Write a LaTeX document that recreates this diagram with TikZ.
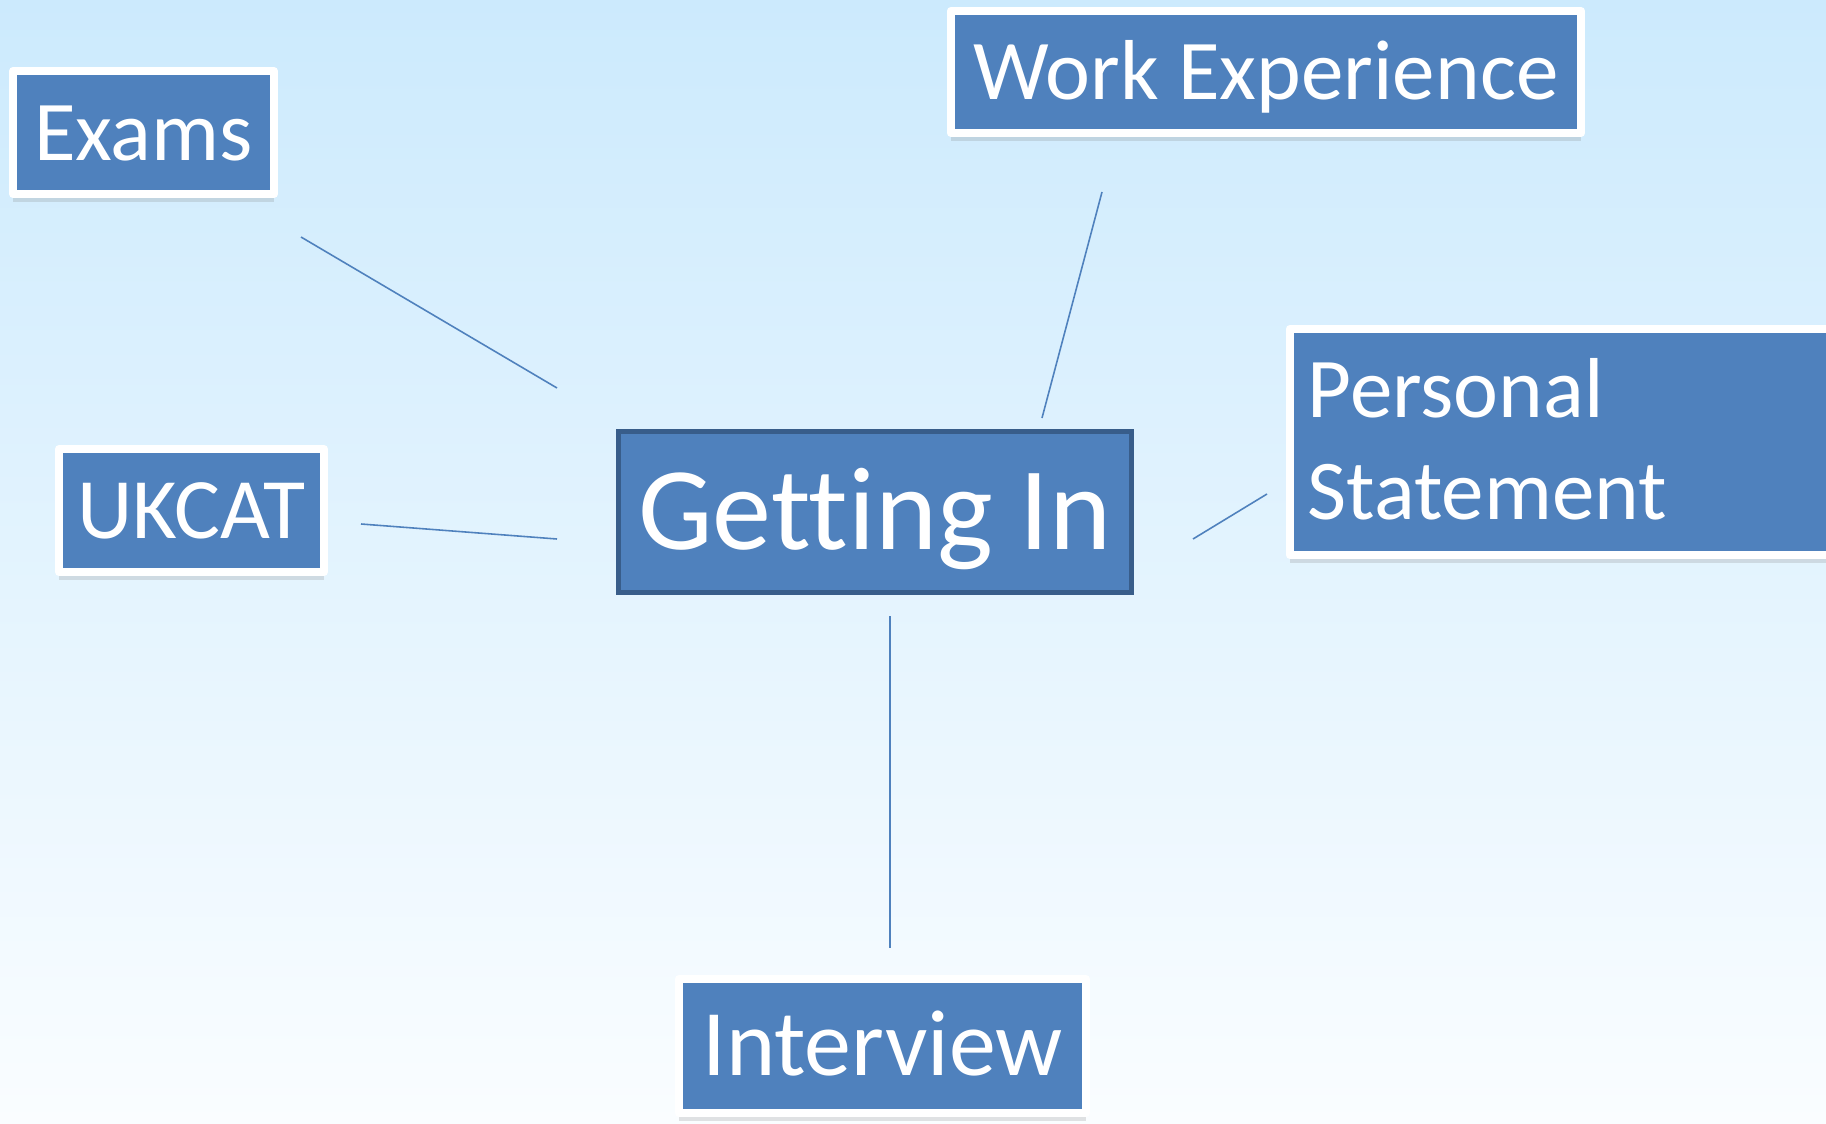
\documentclass[tikz,border=0pt]{standalone}
\usepackage{fontspec}
\setmainfont{Carlito}[Ligatures={NoCommon}]
\usetikzlibrary{shadows}
\definecolor{boxblue}{HTML}{4F81BD}
\definecolor{darkedge}{HTML}{385D8A}
\definecolor{bgtop}{HTML}{CCEAFD}
\definecolor{bgmid}{HTML}{E1F3FD}
\definecolor{bgbot}{HTML}{FAFDFF}
\begin{document}
\begin{tikzpicture}[x=0.01cm,y=-0.01cm,
  leaf/.style={draw=white, line width=0.08cm, line join=round, fill=boxblue, text=white, inner sep=0pt,
    drop shadow={shadow xshift=0pt, shadow yshift=-2.2pt, opacity=0.22}},
  hub/.style={draw=darkedge, line width=0.05cm, fill=boxblue, text=white, inner sep=0pt},
  link/.style={draw=boxblue, line width=0.45pt}]
\useasboundingbox (0,0) rectangle (1826,1124);
\clip (0,0) rectangle (1826,1124);
\shade[top color=bgtop, middle color=bgmid, bottom color=bgbot] (0,0) rectangle (1826,1124);

% connectors
\coordinate (exA) at (301,237);  \coordinate (exB) at (557,388);
\coordinate (wkA) at (1102,192); \coordinate (wkB) at (1042,418);
\coordinate (ukA) at (361,524);  \coordinate (ukB) at (557,539);
\coordinate (psA) at (1193,539); \coordinate (psB) at (1267,494);
\coordinate (ivA) at (890,616);  \coordinate (ivB) at (890,948);
\draw[link] (exA) -- (exB);
\draw[link] (wkA) -- (wkB);
\draw[link] (ukA) -- (ukB);
\draw[link] (psA) -- (psB);
\draw[link] (ivA) -- (ivB);

% boxes
\node[leaf, minimum width=2.61cm, minimum height=1.23cm, text height=0.55cm, text depth=0pt,
  font=\fontsize{24.2}{29}\selectfont] (exams) at (143.5,132.5) {Exams};
\node[leaf, minimum width=2.65cm, minimum height=1.23cm, text height=0.56cm, text depth=0pt,
  font=\fontsize{24.5}{29}\selectfont] (ukcat) at (191.5,510.5) {UKCAT};
\node[leaf, minimum width=6.30cm, minimum height=1.22cm, text height=0.54cm, text depth=0pt,
  font=\fontsize{24.2}{29}\selectfont] (work) at (1266,72) {Work Experience};
\node[leaf, minimum width=4.07cm, minimum height=1.34cm, text height=0.59cm, text depth=0pt,
  font=\fontsize{26.7}{32}\selectfont] (interview) at (882.5,1046) {Interview};
\node[hub, minimum width=5.13cm, minimum height=1.61cm, text height=0.75cm, text depth=0pt,
  font=\fontsize{33.6}{40}\selectfont] (getting) at (875,512) {Getting In};
\node[leaf, minimum width=7.10cm, minimum height=2.26cm] (personal) at (1645,442) {};
\node[text=white, align=left, anchor=base west, inner sep=0pt,
  font=\fontsize{24.2}{29}\selectfont] (pstext) at (1307,519) {Personal\\Statement};
\end{tikzpicture}
\end{document}
